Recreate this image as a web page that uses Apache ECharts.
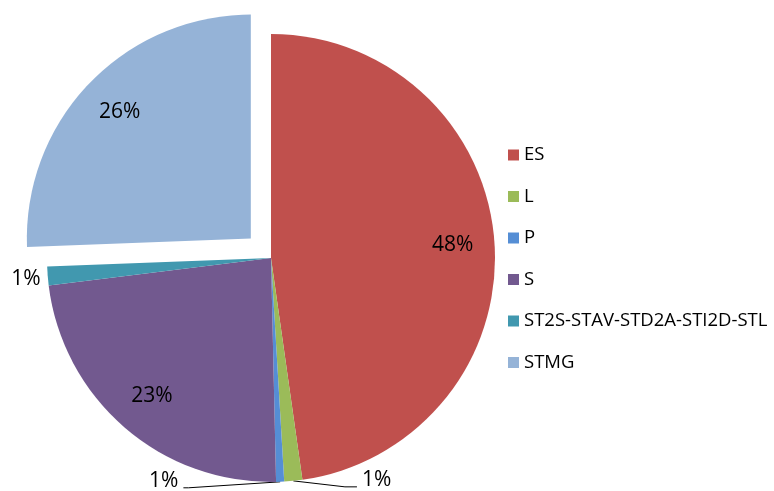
<!DOCTYPE html>
<html>
<head>
<meta charset="utf-8">
<script src="https://cdn.jsdelivr.net/npm/echarts@6/dist/echarts.min.js"></script>
<style>
html,body{margin:0;padding:0;background:#fff;}
#chart{width:774px;height:491px;}
</style>
</head>
<body>
<div id="chart"></div>
<script>
// ---- data ----
const categories = ['ES', 'L', 'P', 'S', 'ST2S-STAV-STD2A-STI2D-STL', 'STMG'];
const values = [47.75, 1.3, 0.58, 23.4, 1.35, 25.6];
const colors = ['#C0504D', '#9BBB59', '#558ED5', '#72598F', '#4198AF', '#95B3D7'];
const explodedCategory = 'STMG';
const insideLabelCats = ['ES', 'S', 'STMG'];
const leftFlipCats = ['P'];

// ---- layout ----
const CX = 271, CY = 258, R = 224;
const LABEL_RADIUS_RATIO = 0.8;
const FONT = '"Open Sans", "Noto Sans", sans-serif';

const lineCfg = {
  'L': { length: 6, length2: 63, show: true },
  'P': { length: 6, length2: 97, show: true },
  'ST2S-STAV-STD2A-STI2D-STL': { length: 2, length2: 2, show: false }
};

const data = categories.map((name, i) => {
  const inside = insideLabelCats.indexOf(name) >= 0;
  const item = {
    name: name,
    value: values[i],
    itemStyle: { color: colors[i] },
    selected: name === explodedCategory,
    label: inside ? { position: 'inside' } : { position: 'outside', distanceToLabelLine: name.length > 3 ? 3 : 5 }
  };
  if (!inside) {
    item.labelLine = lineCfg[name];
  }
  return item;
});

const chart = echarts.init(document.getElementById('chart'), null, { renderer: 'canvas' });

chart.setOption({
  animation: false,
  backgroundColor: '#ffffff',
  legend: {
    orient: 'vertical',
    left: 508,
    top: 145,
    padding: 0,
    icon: 'rect',
    itemWidth: 11,
    itemHeight: 11,
    itemGap: 21.5,
    selectedMode: false,
    data: categories,
    textStyle: { fontFamily: FONT, fontSize: 18.5, color: '#000', lineHeight: 20 }
  },
  series: [{
    type: 'pie',
    center: [CX, CY],
    radius: R,
    startAngle: 90,
    clockwise: true,
    selectedMode: 'single',
    selectedOffset: 28,
    avoidLabelOverlap: false,
    emphasis: { disabled: true },
    label: {
      fontFamily: FONT,
      fontSize: 21,
      color: '#000',
      formatter: p => Math.round(p.percent) + '%'
    },
    labelLine: {
      smooth: false,
      lineStyle: { color: '#000', width: 1 }
    },
    itemStyle: { borderWidth: 0 },
    labelLayout: function (p) {
      const name = categories[p.dataIndex];
      const rc = p.labelRect;
      const lx = rc.x + rc.width / 2;
      const ly = rc.y + rc.height / 2;
      if (insideLabelCats.indexOf(name) >= 0) {
        const vx = lx - CX, vy = ly - CY;
        const d = Math.hypot(vx, vy);
        const extra = (LABEL_RADIUS_RATIO - 0.5) * R;
        return { dx: vx / d * extra, dy: vy / d * extra };
      }
      if (!p.labelLinePoints) return {};
      const pts = p.labelLinePoints;
      const p0 = pts[0], p1 = pts[1], p2 = pts[2];
      const lift = (name.length > 3) ? 3 : -7;
      if (leftFlipCats.indexOf(name) >= 0) {
        const dist = rc.x - p2[0];
        const nx = p1[0] - (p2[0] - p1[0]);
        return {
          labelLinePoints: [p0, [nx + 5, p2[1]], [nx, p2[1]]],
          x: nx - dist,
          y: ly + lift,
          align: 'right'
        };
      }
      const right = p2[0] >= p0[0];
      return {
        labelLinePoints: [p0, [p2[0] + (right ? -12 : 12), p2[1]], p2],
        x: right ? rc.x : rc.x + rc.width,
        y: ly + lift,
        align: right ? 'left' : 'right'
      };
    },
    data: data
  }]
});
</script>
</body>
</html>
